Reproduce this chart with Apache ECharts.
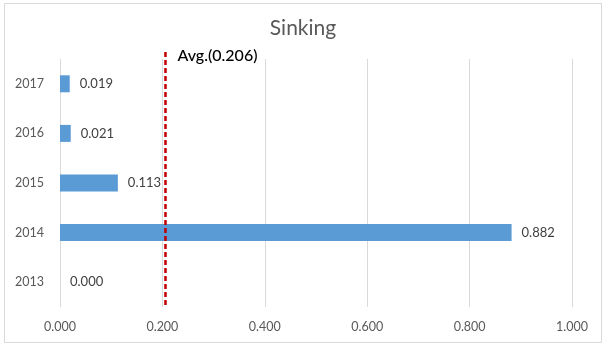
<!DOCTYPE html>
<html>
<head>
<meta charset="utf-8">
<script src="https://cdn.jsdelivr.net/npm/echarts@6/dist/echarts.min.js"></script>
<style>
  html, body { margin: 0; padding: 0; background: #fff; }
  #chart { width: 606px; height: 345px; }
</style>
</head>
<body>
<div id="chart"></div>
<script>
// Years (bottom to top) and sinking values per year
const years = ['2013', '2014', '2015', '2016', '2017'];
const values = [0.000, 0.882, 0.113, 0.021, 0.019];
const average = 0.206;
const xTicks = { min: 0, max: 1, interval: 0.2 };

const FONT = 'Lato, "Open Sans", sans-serif';
const gridBox = { left: 60, right: 34, top: 59, bottom: 38 };

const chart = echarts.init(document.getElementById('chart'));

chart.setOption({
  animation: false,
  backgroundColor: '#ffffff',
  title: {
    text: 'Sinking',
    left: 'center',
    top: 13,
    textStyle: { fontFamily: FONT, fontSize: 21, fontWeight: 'normal', color: '#595959' }
  },
  grid: gridBox,
  xAxis: {
    type: 'value',
    min: xTicks.min,
    max: xTicks.max,
    interval: xTicks.interval,
    axisLine: { show: false },
    axisTick: { show: false },
    splitLine: { show: true, lineStyle: { color: '#d9d9d9', width: 1 } },
    axisLabel: {
      fontFamily: FONT, fontSize: 12.5, color: '#595959', margin: 13,
      formatter: v => v.toFixed(3)
    }
  },
  yAxis: {
    type: 'category',
    data: years,
    axisLine: { show: false },
    axisTick: { show: false },
    axisLabel: { fontFamily: FONT, fontSize: 12.5, color: '#595959', margin: 16 }
  },
  series: [{
    type: 'bar',
    data: values,
    barWidth: 17,
    itemStyle: { color: '#5b9bd5' },
    label: {
      show: true,
      position: 'right',
      distance: 10,
      fontFamily: FONT, fontSize: 13, color: '#404040',
      formatter: p => p.value.toFixed(3)
    }
  }]
});

// Average reference line with its caption, placed through the x scale
const avgX = chart.convertToPixel({ xAxisIndex: 0 }, average);
const plotBottom = 345 - gridBox.bottom;
chart.setOption({
  graphic: [
    {
      type: 'rect',
      shape: { x: 4.5, y: 3.5, width: 597, height: 339 },
      style: { fill: 'none', stroke: '#d9d9d9', lineWidth: 1 },
      silent: true
    },
    {
      type: 'line',
      shape: { x1: avgX, y1: gridBox.top - 7, x2: avgX, y2: plotBottom },
      style: { stroke: '#c00000', lineWidth: 2.5, lineDash: [5, 3] },
      z: 10
    },
    {
      type: 'text',
      x: avgX + 12,
      y: 48,
      style: {
        text: 'Avg.(' + average.toFixed(3) + ')',
        fontFamily: FONT, fontSize: 16, fontWeight: 500,
        fill: '#000000'
      },
      z: 10
    }
  ]
});
</script>
</body>
</html>
